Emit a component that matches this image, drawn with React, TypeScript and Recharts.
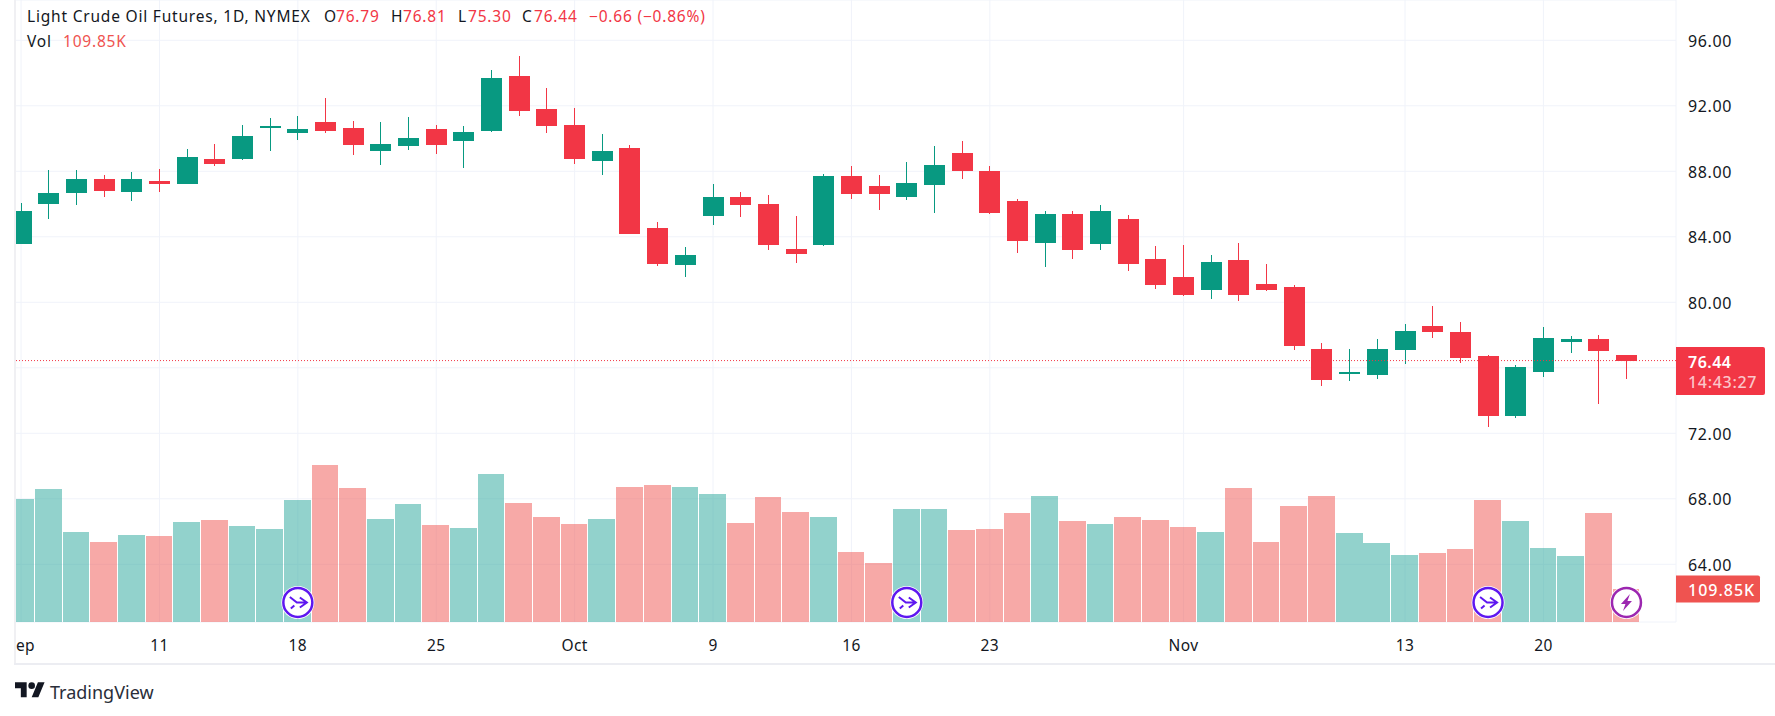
import React from "react";
import { ComposedChart, Bar, XAxis, YAxis, CartesianGrid, ReferenceLine, ReferenceDot } from "recharts";

const opens = [83.59,86.03,86.70,87.55,86.76,87.43,87.25,88.77,88.77,90.66,90.36,91.03,90.66,89.26,89.56,90.60,89.87,90.48,93.83,91.82,90.84,88.65,89.44,84.51,82.25,85.24,86.46,86.03,83.23,83.47,87.74,87.13,86.40,87.19,89.14,88.04,86.21,83.65,85.42,83.53,85.06,82.62,81.52,80.78,82.61,81.14,80.96,77.16,75.63,75.57,77.10,78.57,78.20,76.73,73.06,75.76,77.59,77.78,76.79];
const highs = [86.09,88.10,88.10,87.80,87.98,88.16,89.38,89.69,90.84,91.27,91.39,92.49,91.09,91.03,91.33,90.84,90.78,94.19,95.05,93.10,91.88,90.29,89.62,84.93,83.35,87.25,86.76,86.58,85.24,87.86,88.35,87.80,88.59,89.56,89.87,88.35,86.33,85.60,85.60,85.97,85.36,83.41,83.47,82.86,83.65,82.31,81.08,77.53,77.16,77.78,78.69,79.80,78.82,76.80,76.18,78.51,77.96,78.02,76.81];
const lows = [83.59,85.06,85.97,86.46,86.21,86.76,87.25,88.35,88.71,89.26,89.93,90.36,89.02,88.41,89.32,89.08,88.22,90.42,91.39,90.36,88.47,87.80,84.20,82.19,81.52,84.69,85.18,83.17,82.38,83.41,86.33,85.66,86.27,85.48,87.55,85.42,82.98,82.13,82.62,83.17,81.89,80.79,80.37,80.22,80.10,80.71,77.10,74.90,75.20,75.33,76.24,77.84,76.31,72.39,72.94,75.45,76.92,73.80,75.30];
const closes = [85.60,86.70,87.55,86.82,87.55,87.25,88.89,88.47,90.17,90.78,90.60,90.48,89.62,89.69,90.05,89.62,90.42,93.71,91.70,90.78,88.77,89.26,84.20,82.31,82.86,86.40,85.97,83.47,82.92,87.74,86.64,86.64,87.31,88.41,88.04,85.48,83.72,85.42,83.17,85.60,82.31,81.04,80.43,82.49,80.47,80.78,77.35,75.27,75.76,77.16,78.27,78.20,76.61,73.06,76.06,77.84,77.78,77.04,76.44];
const volumes = [410,443,300,267,290,287,333,340,320,310,407,523,447,343,393,323,313,493,397,350,327,343,450,457,450,427,330,417,367,350,233,197,377,377,307,310,363,420,337,327,350,340,317,300,447,267,387,420,297,263,223,230,243,407,337,247,220,363,109.85];

const priceTicks = [64,68,72,76,80,84,88,92,96];
const hiddenPriceLabels = [76];
const dateTickIndexes = [0,5,10,15,20,25,30,35,42,50,55];
const dateTickLabels = ["Sep","11","18","25","Oct","9","16","23","Nov","13","20"];
const splitMarkers = [10,32,53];
const dividendMarkers = [58];

const data = opens.map((open, i) => ({ i, open, high: highs[i], low: lows[i], close: closes[i], volume: volumes[i] }));

const UP = "#089981";
const DOWN = "#F23645";
const VOL_UP = "rgba(38,166,154,0.5)";
const VOL_DOWN = "rgba(239,83,80,0.5)";
const GRID = "#f0f3fa";
const TEXT = "#131722";
const FONT = "'Noto Sans', sans-serif";

const W = 1775, H = 716;
// Recharts truncates the bar offset to a whole pixel; this restores the centre of each bar on its slot.
const BAND_SHIFT = 0.34;
const SLOT = 27.68;

function Candle(props: any) {
  const { x, y, width, height, payload } = props;
  const { open, close, high, low } = payload;
  const color = close >= open ? UP : DOWN;
  const perUnit = height / (high - low);
  const top = y + (high - Math.max(open, close)) * perUnit;
  const bodyH = Math.max(1, Math.abs(close - open) * perUnit);
  const cx = x + width / 2 + BAND_SHIFT;
  return (
    <g shapeRendering="crispEdges">
      <rect x={Math.round(cx - 0.5)} y={y} width={1} height={height} fill={color} />
      <rect x={Math.round(cx - width / 2)} y={top} width={width} height={bodyH} fill={color} />
    </g>
  );
}

function VolumeBar(props: any) {
  const { x, y, width, height, payload } = props;
  const cx = x + width / 2 + BAND_SHIFT;
  const l = Math.round(cx - SLOT / 2);
  const r = Math.round(cx + SLOT / 2) - 1;
  return <rect x={l} y={y} width={r - l} height={height} fill={payload.close >= payload.open ? VOL_UP : VOL_DOWN} shapeRendering="crispEdges" />;
}

function DateTick(props: any) {
  const { x, y, payload } = props;
  const label = dateTickLabels[dateTickIndexes.indexOf(payload.value)];
  const left = 15;
  return (
    <svg x={left} y={y} width={W - left} height={50} style={{ overflow: "hidden" }}>
      <text x={x - left} y={27} textAnchor="middle" fontFamily={FONT} fontSize={15.5} letterSpacing={0.4} fill={TEXT}>{label}</text>
    </svg>
  );
}

function PriceTick(props: any) {
  const { x, y, payload } = props;
  if (hiddenPriceLabels.includes(payload.value)) return <g />;
  return (
    <text x={x} y={y + 6.5} fontFamily={FONT} fontSize={16} letterSpacing={0.6} fill={TEXT}>{payload.value.toFixed(2)}</text>
  );
}

function PriceTag(props: any) {
  const { viewBox } = props;
  const left = viewBox.x + viewBox.width;
  const ly = viewBox.y;
  return (
    <g fontFamily={FONT}>
      <path d={`M${left} ${ly - 13.5}h87a2 2 0 0 1 2 2v44a2 2 0 0 1 -2 2h-87z`} fill={DOWN} />
      <text x={left + 12} y={ly + 7} fontSize={16} fontWeight={600} letterSpacing={0.5} fill="#fff">{closes[closes.length - 1].toFixed(2)}</text>
      <text x={left + 12} y={ly + 27.5} fontSize={16} fontWeight={500} letterSpacing={0.7} fill="#fff" fillOpacity={0.72}>14:43:27</text>
    </g>
  );
}

function VolumeTag(props: any) {
  const { viewBox } = props;
  const left = viewBox.x + viewBox.width;
  const ly = viewBox.y;
  return (
    <g fontFamily={FONT}>
      <path d={`M${left} ${ly - 13.5}h82a2 2 0 0 1 2 2v23a2 2 0 0 1 -2 2h-82z`} fill="#ef5350" />
      <text x={left + 12} y={ly + 6.5} fontSize={16} fontWeight={500} letterSpacing={1} fill="#fff">109.85K</text>
    </g>
  );
}

function SplitMarker(props: any) {
  const { cx, cy } = props;
  const c = "#5e17f0";
  return (
    <g transform={`translate(${cx},${cy})`}>
      <circle r={16.5} fill="#fff" />
      <circle r={14.5} fill="#fff" stroke={c} strokeWidth={2.5} />
      <path d="M-8 -5.5L-1 0L9 0M2 -5L9 0L2 5M-7 6L-3.5 3" fill="none" stroke={c} strokeWidth={2} />
    </g>
  );
}

function DividendMarker(props: any) {
  const { cx, cy } = props;
  const c = "#9c27b0";
  return (
    <g transform={`translate(${cx},${cy})`}>
      <circle r={16.5} fill="#fff" />
      <circle r={14.5} fill="#fff" stroke={c} strokeWidth={2.5} />
      <path d="M3.5 -8.5L-5.5 1.5L-1 1.5L-3.5 8.5L5.5 -1.5L1 -1.5Z" fill={c} />
    </g>
  );
}

const headerStyle: React.CSSProperties = { position: "absolute", whiteSpace: "nowrap", fontFamily: FONT, fontSize: 15.5, letterSpacing: 0.8, lineHeight: "20px" };

function Txt({ x, y, color, children }: any) {
  return <span style={{ ...headerStyle, left: x, top: y - 10, color }}>{children}</span>;
}

export default function App() {
  const last = data[data.length - 1];
  return (
    <div style={{ position: "absolute", left: 0, top: 0, width: W, height: H, background: "#fff", overflow: "hidden" }}>
      <ComposedChart width={W} height={H} data={data} margin={{ top: 0, right: 0, bottom: 0, left: 15 }}>
        <CartesianGrid xAxisId="price" yAxisId="price" stroke={GRID} strokeWidth={1} />
        <XAxis xAxisId="price" dataKey="i" type="number" domain={[-0.2186, 59.79]} allowDataOverflow ticks={dateTickIndexes} interval={0} height={94} axisLine={false} tickLine={false} tickSize={0} tick={<DateTick />} />
        <XAxis xAxisId="vol" dataKey="i" type="number" domain={[-0.2186, 59.79]} allowDataOverflow hide />
        <YAxis yAxisId="price" orientation="right" domain={[60.476, 98.461]} allowDataOverflow ticks={priceTicks} interval={0} width={99} axisLine={false} tickLine={false} tickSize={0} tickMargin={12} tick={<PriceTick />} />
        <YAxis yAxisId="vol" domain={[0, 2071]} hide />
        <Bar xAxisId="vol" yAxisId="vol" dataKey="volume" barSize={27} shape={<VolumeBar />} isAnimationActive={false} />
        <ReferenceLine xAxisId="price" yAxisId="price" y={last.close} stroke={DOWN} strokeDasharray="1 2" label={<PriceTag />} />
        <Bar xAxisId="price" yAxisId="price" dataKey={(d: any) => [d.low, d.high]} barSize={21} shape={<Candle />} isAnimationActive={false} />
        <ReferenceLine xAxisId="vol" yAxisId="vol" y={last.volume} stroke="none" label={<VolumeTag />} />
        {splitMarkers.map((m) => (
          <ReferenceDot key={m} xAxisId="price" yAxisId="vol" x={m} y={65} shape={<SplitMarker />} />
        ))}
        {dividendMarkers.map((m) => (
          <ReferenceDot key={m} xAxisId="price" yAxisId="vol" x={m} y={65} shape={<DividendMarker />} />
        ))}
      </ComposedChart>

      <div style={{ position: "absolute", left: 14, top: 0, width: 2, height: 665, background: "#f0f0f3" }} />
      <div style={{ position: "absolute", left: 14, top: 663, width: W - 14, height: 2, background: "#ecedf2" }} />

      <Txt x={27} y={16} color={TEXT}>Light Crude Oil Futures, 1D, NYMEX</Txt>
      <Txt x={324} y={16} color={TEXT}>O</Txt>
      <Txt x={336} y={16} color={DOWN}>{last.open.toFixed(2)}</Txt>
      <Txt x={391} y={16} color={TEXT}>H</Txt>
      <Txt x={403} y={16} color={DOWN}>{last.high.toFixed(2)}</Txt>
      <Txt x={458} y={16} color={TEXT}>L</Txt>
      <Txt x={468} y={16} color={DOWN}>{last.low.toFixed(2)}</Txt>
      <Txt x={522} y={16} color={TEXT}>C</Txt>
      <Txt x={534} y={16} color={DOWN}>{last.close.toFixed(2)}</Txt>
      <Txt x={589} y={16} color={DOWN}>−0.66 (−0.86%)</Txt>
      <Txt x={27} y={41} color={TEXT}>Vol</Txt>
      <Txt x={63} y={41} color="#ef5350">109.85K</Txt>

      <svg style={{ position: "absolute", left: 15, top: 682 }} width={30} height={16} viewBox="0 4 36 18.5">
        <path d="M14 22H7V11H0V4h14v18zM28 22h-8l7.5-18h8L28 22z" fill={TEXT} />
        <circle cx={20} cy={8} r={4} fill={TEXT} />
      </svg>
      <span style={{ position: "absolute", left: 50, top: 679, fontFamily: FONT, fontSize: 18, lineHeight: "26px", color: "#2a2e39", whiteSpace: "nowrap" }}>TradingView</span>
    </div>
  );
}
